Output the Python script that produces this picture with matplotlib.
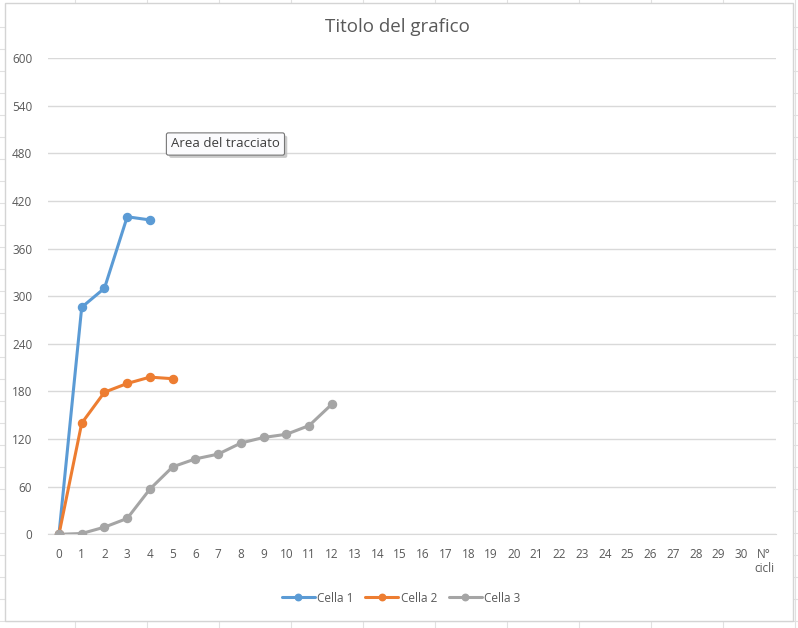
import matplotlib.pyplot as plt
import matplotlib.patheffects as pe
from matplotlib.lines import Line2D
from matplotlib.patches import Rectangle

# data (category axis 0..30)
cycles_labels = [str(i) for i in range(31)] + ['N°\ncicli']
cella1 = [0, 286, 310, 400, 396]
cella2 = [0, 140, 179, 190, 198, 196]
cella3 = [0, 1, 9, 20, 57, 85, 95, 101, 115, 122, 126, 137, 164]
y_ticks = [0, 60, 120, 180, 240, 300, 360, 420, 480, 540, 600]

W, H = 798, 628
plt.rcParams['font.family'] = ['Open Sans', 'DejaVu Sans']
txt_col = '#595959'
grid_col = '#d9d9d9'

fig = plt.figure(figsize=(W / 100, H / 100), dpi=100)

def fx(px):
    return px / W

def fy(py):
    return 1 - py / H

# spreadsheet cells behind the chart
for x in range(75, W, 72):
    fig.add_artist(Line2D([fx(x), fx(x)], [0, 1], color='#e1e1e1', lw=0.8, zorder=-3))
for y in range(27, H, 22):
    fig.add_artist(Line2D([0, 1], [fy(y), fy(y)], color='#e1e1e1', lw=0.8, zorder=-3))

# chart area
fig.add_artist(Rectangle((fx(5), fy(621)), fx(788), (621 - 3) / H, facecolor='white',
                         edgecolor='#d4d4d4', lw=1.0, zorder=-2))

ax = fig.add_axes([fx(47.6), fy(534.3), fx(775.5 - 47.6), (534.3 - 58) / H])
ax.set_facecolor('none')

styles = [('Cella 1', cella1, '#5b9bd5'),
          ('Cella 2', cella2, '#ed7d31'),
          ('Cella 3', cella3, '#a5a5a5')]
for name, vals, col in styles:
    ax.plot(range(len(vals)), vals, color=col, lw=2.2, marker='o', ms=5.8,
            label=name, solid_capstyle='round', zorder=3)

ax.set_xlim(-0.5, len(cycles_labels) - 0.5)
ax.set_ylim(0, 600)
ax.set_yticks(y_ticks)
ax.set_xticks(range(len(cycles_labels)))
ax.set_xticklabels(cycles_labels, va='top', linespacing=1.1)
ax.tick_params(axis='both', length=0, labelsize=8.5, colors=txt_col)
ax.tick_params(axis='y', pad=11)
ax.tick_params(axis='x', pad=10)
ax.grid(axis='y', color=grid_col, lw=1.0)
for s in ['top', 'right', 'left']:
    ax.spines[s].set_visible(False)
ax.spines['bottom'].set_color(grid_col)
ax.set_axisbelow(True)

fig.text(fx(397), fy(27), 'Titolo del grafico', ha='center', va='center',
         fontsize=13.5, color=txt_col)

# tooltip left over from the screenshot, with a soft shadow
tip = fig.text(fx(171), fy(144), 'Area del tracciato', ha='left', va='center',
               fontsize=9.5, color='#3c3c3c', zorder=5,
               bbox=dict(boxstyle='round,pad=0.35,rounding_size=0.15', facecolor='#fbfbfd',
                         edgecolor='#767676', lw=0.8))
tip.get_bbox_patch().set_path_effects([
    pe.SimplePatchShadow(offset=(2, -2), shadow_rgbFace='#bdbdbd', alpha=0.8),
    pe.Normal()])

fig.legend(loc='center', bbox_to_anchor=(fx(401), fy(598)), ncol=3, frameon=False,
           fontsize=8.5, labelcolor=txt_col, handlelength=2.8, columnspacing=1.0,
           handletextpad=0.2, markerscale=0.8)

fig.savefig('out.png', dpi=100)
